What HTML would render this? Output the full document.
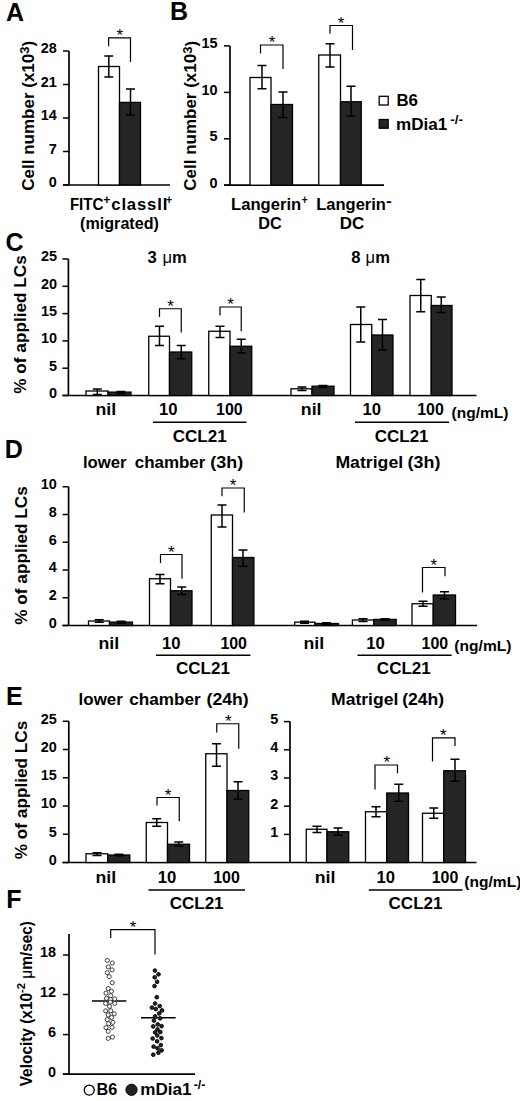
<!DOCTYPE html>
<html><head><meta charset="utf-8"><style>
html,body{margin:0;padding:0;background:#fff;}
svg{display:block;}
text{font-family:"Liberation Sans", sans-serif;fill:#000;}
</style></head><body>
<svg width="520" height="1101" viewBox="0 0 520 1101">
<rect x="0" y="0" width="520" height="1101" fill="#fff"/>
<g stroke="#000">
<text stroke="none" x="6" y="20.8" font-size="25" text-anchor="start" font-weight="bold" >A</text>
<text stroke="none" x="170" y="19.6" font-size="25" text-anchor="start" font-weight="bold" >B</text>
<text stroke="none" x="5.6" y="251.2" font-size="25" text-anchor="start" font-weight="bold" >C</text>
<text stroke="none" x="4.8" y="457.8" font-size="25" text-anchor="start" font-weight="bold" >D</text>
<text stroke="none" x="6.0" y="705.2" font-size="25" text-anchor="start" font-weight="bold" >E</text>
<text stroke="none" x="6.3" y="907.8" font-size="25" text-anchor="start" font-weight="bold" >F</text>
<text stroke="none" x="28.3" y="115.8" font-size="17" text-anchor="middle" font-weight="bold" transform="rotate(-90 28.3 115.8)" dominant-baseline="central">Cell number (x10<tspan font-size="13" dy="-4.3">3</tspan><tspan dy="4.3">)</tspan></text>
<line x1="69" y1="51" x2="69" y2="185" stroke-width="1.7"/>
<line x1="63" y1="51" x2="69" y2="51" stroke-width="1.5"/>
<text stroke="none" x="40.63" y="53.30" font-size="15.2" font-weight="bold" textLength="16.06" lengthAdjust="spacingAndGlyphs">28</text>
<line x1="63" y1="84.5" x2="69" y2="84.5" stroke-width="1.5"/>
<text stroke="none" x="40.63" y="86.80" font-size="15.2" font-weight="bold" textLength="16.06" lengthAdjust="spacingAndGlyphs">21</text>
<line x1="63" y1="118" x2="69" y2="118" stroke-width="1.5"/>
<text stroke="none" x="40.63" y="120.30" font-size="15.2" font-weight="bold" textLength="16.06" lengthAdjust="spacingAndGlyphs">14</text>
<line x1="63" y1="151.5" x2="69" y2="151.5" stroke-width="1.5"/>
<text stroke="none" x="48.66" y="153.80" font-size="15.2" font-weight="bold" textLength="8.03" lengthAdjust="spacingAndGlyphs">7</text>
<line x1="63" y1="185" x2="69" y2="185" stroke-width="1.5"/>
<text stroke="none" x="48.66" y="187.30" font-size="15.2" font-weight="bold" textLength="8.03" lengthAdjust="spacingAndGlyphs">0</text>
<line x1="63" y1="185" x2="170" y2="185" stroke-width="1.7"/>
<rect x="98.5" y="66.5" width="21.0" height="118.5" fill="#fff" stroke="#000" stroke-width="1.3"/>
<rect x="119.5" y="102.4" width="21.0" height="82.6" fill="#252525" stroke="#000" stroke-width="1.3"/>
<path d="M108.8,56V77M104.3,56H113.3M104.3,77H113.3" stroke-width="1.5" fill="none"/>
<path d="M130.5,89V115M126.0,89H135.0M126.0,115H135.0" stroke-width="1.5" fill="none"/>
<path d="M108.6,46.2V37.8H130.5V62" stroke-width="1.2" fill="none"/>
<text stroke="none" x="119.7" y="41.05" font-size="17" text-anchor="middle" font-weight="normal" >*</text>
<text stroke="none" x="69.89" y="210" font-size="16.7" font-weight="bold" textLength="33.63" lengthAdjust="spacingAndGlyphs">FITC</text>
<text stroke="none" x="103.19" y="203.6" font-size="12" font-weight="bold" textLength="7.10" lengthAdjust="spacingAndGlyphs">+</text>
<text stroke="none" x="111.28" y="210" font-size="16.7" font-weight="bold" textLength="56.04" lengthAdjust="spacing">classII</text>
<text stroke="none" x="166.06" y="203.6" font-size="12" font-weight="bold" textLength="6.17" lengthAdjust="spacingAndGlyphs">+</text>
<text stroke="none" x="80.10" y="228.6" font-size="16.7" font-weight="bold" textLength="78.81" lengthAdjust="spacingAndGlyphs">(migrated)</text>
<text stroke="none" x="191" y="115.8" font-size="17" text-anchor="middle" font-weight="bold" transform="rotate(-90 191 115.8)" dominant-baseline="central">Cell number (x10<tspan font-size="13" dy="-4.3">3</tspan><tspan dy="4.3">)</tspan></text>
<line x1="230" y1="45.9" x2="230" y2="185.2" stroke-width="1.7"/>
<line x1="224" y1="45.9" x2="230" y2="45.9" stroke-width="1.5"/>
<text stroke="none" x="201.53" y="48.20" font-size="15.2" font-weight="bold" textLength="16.06" lengthAdjust="spacingAndGlyphs">15</text>
<line x1="224" y1="92.4" x2="230" y2="92.4" stroke-width="1.5"/>
<text stroke="none" x="201.53" y="94.70" font-size="15.2" font-weight="bold" textLength="16.06" lengthAdjust="spacingAndGlyphs">10</text>
<line x1="224" y1="138.8" x2="230" y2="138.8" stroke-width="1.5"/>
<text stroke="none" x="209.56" y="141.10" font-size="15.2" font-weight="bold" textLength="8.03" lengthAdjust="spacingAndGlyphs">5</text>
<line x1="224" y1="185.2" x2="230" y2="185.2" stroke-width="1.5"/>
<text stroke="none" x="209.56" y="187.50" font-size="15.2" font-weight="bold" textLength="8.03" lengthAdjust="spacingAndGlyphs">0</text>
<line x1="224" y1="185.2" x2="384" y2="185.2" stroke-width="1.7"/>
<rect x="250" y="77.5" width="21" height="107.69999999999999" fill="#fff" stroke="#000" stroke-width="1.3"/>
<rect x="271" y="104.5" width="21.5" height="80.69999999999999" fill="#252525" stroke="#000" stroke-width="1.3"/>
<path d="M262,65.5V88.75M257.5,65.5H266.5M257.5,88.75H266.5" stroke-width="1.5" fill="none"/>
<path d="M283,92V117.5M278.5,92H287.5M278.5,117.5H287.5" stroke-width="1.5" fill="none"/>
<path d="M260.5,53.5V45H283V69" stroke-width="1.2" fill="none"/>
<text stroke="none" x="272" y="48.25" font-size="17" text-anchor="middle" font-weight="normal" >*</text>
<rect x="318.75" y="55" width="21.75" height="130.2" fill="#fff" stroke="#000" stroke-width="1.3"/>
<rect x="340.5" y="101.75" width="20.75" height="83.44999999999999" fill="#252525" stroke="#000" stroke-width="1.3"/>
<path d="M330,43.75V67M325.5,43.75H334.5M325.5,67H334.5" stroke-width="1.5" fill="none"/>
<path d="M351,86.25V116M346.5,86.25H355.5M346.5,116H355.5" stroke-width="1.5" fill="none"/>
<path d="M330,33.75V25.5H352.5V50" stroke-width="1.2" fill="none"/>
<text stroke="none" x="341" y="28.75" font-size="17" text-anchor="middle" font-weight="normal" >*</text>
<text stroke="none" x="231.09" y="209.5" font-size="16.7" font-weight="bold" textLength="70.04" lengthAdjust="spacingAndGlyphs">Langerin</text>
<text stroke="none" x="301.67" y="203.5" font-size="12" font-weight="bold" textLength="5.94" lengthAdjust="spacingAndGlyphs">+</text>
<text stroke="none" x="316.20" y="209.5" font-size="16.7" font-weight="bold" textLength="69.73" lengthAdjust="spacingAndGlyphs">Langerin</text>
<text stroke="none" x="385.92" y="205.6" font-size="14" font-weight="bold" textLength="5.77" lengthAdjust="spacingAndGlyphs">-</text>
<text stroke="none" x="258.21" y="228.6" font-size="16.7" font-weight="bold" textLength="23.43" lengthAdjust="spacingAndGlyphs">DC</text>
<text stroke="none" x="339.87" y="228.6" font-size="16.7" font-weight="bold" textLength="24.50" lengthAdjust="spacingAndGlyphs">DC</text>
<rect x="379.2" y="96.3" width="9" height="8.7" fill="#fff" stroke="#000" stroke-width="1.3"/>
<rect x="379.2" y="119.5" width="9" height="8.7" fill="#252525" stroke="#000" stroke-width="1.3"/>
<text stroke="none" x="396.5" y="106.2" font-size="16.8" text-anchor="start" font-weight="bold" >B6</text>
<text stroke="none" x="396" y="130.4" font-size="17.1" text-anchor="start" font-weight="bold" >mDia1<tspan font-size="13.5" dx="3" dy="-6.5">-/-</tspan></text>
<text stroke="none" x="147.6" y="263.4" font-size="16.6" text-anchor="start" font-weight="bold" >3<tspan x="162.4" font-weight="normal">μ</tspan>m</text>
<text stroke="none" x="351.2" y="263.4" font-size="16.6" text-anchor="start" font-weight="bold" >8<tspan x="365.6" font-weight="normal">μ</tspan>m</text>
<text stroke="none" x="20" y="324.5" font-size="17.2" text-anchor="middle" font-weight="bold" transform="rotate(-90 20 324.5)" dominant-baseline="central">% of applied LCs</text>
<line x1="68.4" y1="259" x2="68.4" y2="395.5" stroke-width="1.7"/>
<line x1="62.400000000000006" y1="259" x2="68.4" y2="259" stroke-width="1.5"/>
<text stroke="none" x="41.03" y="261.30" font-size="15.2" font-weight="bold" textLength="16.06" lengthAdjust="spacingAndGlyphs">25</text>
<line x1="62.400000000000006" y1="286.3" x2="68.4" y2="286.3" stroke-width="1.5"/>
<text stroke="none" x="41.03" y="288.60" font-size="15.2" font-weight="bold" textLength="16.06" lengthAdjust="spacingAndGlyphs">20</text>
<line x1="62.400000000000006" y1="313.6" x2="68.4" y2="313.6" stroke-width="1.5"/>
<text stroke="none" x="41.03" y="315.90" font-size="15.2" font-weight="bold" textLength="16.06" lengthAdjust="spacingAndGlyphs">15</text>
<line x1="62.400000000000006" y1="340.9" x2="68.4" y2="340.9" stroke-width="1.5"/>
<text stroke="none" x="41.03" y="343.20" font-size="15.2" font-weight="bold" textLength="16.06" lengthAdjust="spacingAndGlyphs">10</text>
<line x1="62.400000000000006" y1="368.2" x2="68.4" y2="368.2" stroke-width="1.5"/>
<text stroke="none" x="49.06" y="370.50" font-size="15.2" font-weight="bold" textLength="8.03" lengthAdjust="spacingAndGlyphs">5</text>
<line x1="62.400000000000006" y1="395.5" x2="68.4" y2="395.5" stroke-width="1.5"/>
<text stroke="none" x="49.06" y="397.80" font-size="15.2" font-weight="bold" textLength="8.03" lengthAdjust="spacingAndGlyphs">0</text>
<line x1="62.5" y1="395.5" x2="476.5" y2="395.5" stroke-width="1.7"/>
<rect x="86" y="391" width="22" height="4.5" fill="#fff" stroke="#000" stroke-width="1.3"/>
<path d="M97.3,389V394.4M92.8,389H101.8M92.8,394.4H101.8" stroke-width="1.5" fill="none"/>
<rect x="108" y="392.1" width="23" height="3.3999999999999773" fill="#252525" stroke="#000" stroke-width="1.3"/>
<path d="M121,391.4V393.6M116.5,391.4H125.5M116.5,393.6H125.5" stroke-width="1.5" fill="none"/>
<rect x="148.75" y="336.25" width="20.75" height="59.25" fill="#fff" stroke="#000" stroke-width="1.3"/>
<path d="M159.5,326.25V345.5M155.0,326.25H164.0M155.0,345.5H164.0" stroke-width="1.5" fill="none"/>
<rect x="169.5" y="352" width="22.25" height="43.5" fill="#252525" stroke="#000" stroke-width="1.3"/>
<path d="M181.25,345.5V358.75M176.75,345.5H185.75M176.75,358.75H185.75" stroke-width="1.5" fill="none"/>
<rect x="208.75" y="331.25" width="21.25" height="64.25" fill="#fff" stroke="#000" stroke-width="1.3"/>
<path d="M220,326.25V337.5M215.5,326.25H224.5M215.5,337.5H224.5" stroke-width="1.5" fill="none"/>
<rect x="230" y="346.25" width="21.75" height="49.25" fill="#252525" stroke="#000" stroke-width="1.3"/>
<path d="M241.25,339.25V353M236.75,339.25H245.75M236.75,353H245.75" stroke-width="1.5" fill="none"/>
<rect x="291" y="388.8" width="21" height="6.699999999999989" fill="#fff" stroke="#000" stroke-width="1.3"/>
<path d="M302,387.1V390.6M297.5,387.1H306.5M297.5,390.6H306.5" stroke-width="1.5" fill="none"/>
<rect x="312" y="386.2" width="22" height="9.300000000000011" fill="#252525" stroke="#000" stroke-width="1.3"/>
<path d="M323,385.4V387.4M318.5,385.4H327.5M318.5,387.4H327.5" stroke-width="1.5" fill="none"/>
<rect x="350.5" y="324.5" width="21.25" height="71.0" fill="#fff" stroke="#000" stroke-width="1.3"/>
<path d="M360.75,307V342M356.25,307H365.25M356.25,342H365.25" stroke-width="1.5" fill="none"/>
<rect x="371.75" y="335" width="21.25" height="60.5" fill="#252525" stroke="#000" stroke-width="1.3"/>
<path d="M382.5,319.5V350M378.0,319.5H387.0M378.0,350H387.0" stroke-width="1.5" fill="none"/>
<rect x="410" y="295.5" width="21.25" height="100.0" fill="#fff" stroke="#000" stroke-width="1.3"/>
<path d="M420.75,279.5V311.75M416.25,279.5H425.25M416.25,311.75H425.25" stroke-width="1.5" fill="none"/>
<rect x="431.25" y="305.5" width="20.75" height="90.0" fill="#252525" stroke="#000" stroke-width="1.3"/>
<path d="M441.25,297V312.5M436.75,297H445.75M436.75,312.5H445.75" stroke-width="1.5" fill="none"/>
<path d="M159.5,317V308.75H181.25V332.5" stroke-width="1.2" fill="none"/>
<text stroke="none" x="170.5" y="312.0" font-size="17" text-anchor="middle" font-weight="normal" >*</text>
<path d="M220,315.5V307H241.25V331.25" stroke-width="1.2" fill="none"/>
<text stroke="none" x="230.5" y="310.25" font-size="17" text-anchor="middle" font-weight="normal" >*</text>
<text stroke="none" x="95.41" y="415.2" font-size="16" font-weight="bold" textLength="20.67" lengthAdjust="spacingAndGlyphs">nil</text>
<text stroke="none" x="159.05" y="415.2" font-size="16" font-weight="bold" textLength="18.53" lengthAdjust="spacingAndGlyphs">10</text>
<text stroke="none" x="216.10" y="415.2" font-size="16" font-weight="bold" textLength="26.56" lengthAdjust="spacingAndGlyphs">100</text>
<text stroke="none" x="300.85" y="415.2" font-size="16" font-weight="bold" textLength="20.67" lengthAdjust="spacingAndGlyphs">nil</text>
<text stroke="none" x="362.45" y="415.2" font-size="16" font-weight="bold" textLength="18.53" lengthAdjust="spacingAndGlyphs">10</text>
<text stroke="none" x="417.25" y="415.2" font-size="16" font-weight="bold" textLength="26.56" lengthAdjust="spacingAndGlyphs">100</text>
<line x1="153" y1="422.2" x2="246.5" y2="422.2" stroke-width="1.5"/>
<line x1="355" y1="422.2" x2="449" y2="422.2" stroke-width="1.5"/>
<text stroke="none" x="172.77" y="441.8" font-size="16.5" font-weight="bold" textLength="53.92" lengthAdjust="spacingAndGlyphs">CCL21</text>
<text stroke="none" x="374.68" y="441.8" font-size="16.5" font-weight="bold" textLength="53.91" lengthAdjust="spacingAndGlyphs">CCL21</text>
<text stroke="none" x="451.63" y="418.3" font-size="15" font-weight="bold" textLength="56.74" lengthAdjust="spacingAndGlyphs">(ng/mL)</text>
<text stroke="none" x="82.94" y="467.5" font-size="17" font-weight="bold" textLength="43.52" lengthAdjust="spacingAndGlyphs">lower</text>
<text stroke="none" x="134.74" y="467.5" font-size="17" font-weight="bold" textLength="70.62" lengthAdjust="spacingAndGlyphs">chamber</text>
<text stroke="none" x="210.31" y="467.5" font-size="17" font-weight="bold" textLength="32.89" lengthAdjust="spacingAndGlyphs">(3h)</text>
<text stroke="none" x="335.42" y="467.7" font-size="17" font-weight="bold" textLength="67.73" lengthAdjust="spacingAndGlyphs">Matrigel</text>
<text stroke="none" x="407.61" y="467.7" font-size="17" font-weight="bold" textLength="32.78" lengthAdjust="spacingAndGlyphs">(3h)</text>
<text stroke="none" x="20.5" y="555.5" font-size="17.2" text-anchor="middle" font-weight="bold" transform="rotate(-90 20.5 555.5)" dominant-baseline="central">% of applied LCs</text>
<line x1="68.6" y1="486.75" x2="68.6" y2="625.5" stroke-width="1.7"/>
<line x1="62.599999999999994" y1="486.75" x2="68.6" y2="486.75" stroke-width="1.5"/>
<text stroke="none" x="40.73" y="489.05" font-size="15.2" font-weight="bold" textLength="16.06" lengthAdjust="spacingAndGlyphs">10</text>
<line x1="62.599999999999994" y1="514.5" x2="68.6" y2="514.5" stroke-width="1.5"/>
<text stroke="none" x="48.76" y="516.80" font-size="15.2" font-weight="bold" textLength="8.03" lengthAdjust="spacingAndGlyphs">8</text>
<line x1="62.599999999999994" y1="542.25" x2="68.6" y2="542.25" stroke-width="1.5"/>
<text stroke="none" x="48.76" y="544.55" font-size="15.2" font-weight="bold" textLength="8.03" lengthAdjust="spacingAndGlyphs">6</text>
<line x1="62.599999999999994" y1="570" x2="68.6" y2="570" stroke-width="1.5"/>
<text stroke="none" x="48.76" y="572.30" font-size="15.2" font-weight="bold" textLength="8.03" lengthAdjust="spacingAndGlyphs">4</text>
<line x1="62.599999999999994" y1="597.75" x2="68.6" y2="597.75" stroke-width="1.5"/>
<text stroke="none" x="48.76" y="600.05" font-size="15.2" font-weight="bold" textLength="8.03" lengthAdjust="spacingAndGlyphs">2</text>
<line x1="62.599999999999994" y1="625.5" x2="68.6" y2="625.5" stroke-width="1.5"/>
<text stroke="none" x="48.76" y="627.80" font-size="15.2" font-weight="bold" textLength="8.03" lengthAdjust="spacingAndGlyphs">0</text>
<line x1="62.5" y1="625.5" x2="477" y2="625.5" stroke-width="1.7"/>
<rect x="88.5" y="621" width="21.0" height="4.5" fill="#fff" stroke="#000" stroke-width="1.3"/>
<path d="M99.2,619.8V622.2M94.7,619.8H103.7M94.7,622.2H103.7" stroke-width="1.5" fill="none"/>
<rect x="109.5" y="622.1" width="23.0" height="3.3999999999999773" fill="#252525" stroke="#000" stroke-width="1.3"/>
<path d="M121.2,621.3V623.3M116.7,621.3H125.7M116.7,623.3H125.7" stroke-width="1.5" fill="none"/>
<rect x="149.5" y="578.75" width="21.0" height="46.75" fill="#fff" stroke="#000" stroke-width="1.3"/>
<path d="M160,574.5V583.75M155.5,574.5H164.5M155.5,583.75H164.5" stroke-width="1.5" fill="none"/>
<rect x="170.5" y="590.75" width="21.5" height="34.75" fill="#252525" stroke="#000" stroke-width="1.3"/>
<path d="M181.75,587V594.5M177.25,587H186.25M177.25,594.5H186.25" stroke-width="1.5" fill="none"/>
<rect x="211.25" y="515" width="21.25" height="110.5" fill="#fff" stroke="#000" stroke-width="1.3"/>
<path d="M222,505V527M217.5,505H226.5M217.5,527H226.5" stroke-width="1.5" fill="none"/>
<rect x="232.5" y="557.5" width="21.400000000000006" height="68.0" fill="#252525" stroke="#000" stroke-width="1.3"/>
<path d="M243,550V566.25M238.5,550H247.5M238.5,566.25H247.5" stroke-width="1.5" fill="none"/>
<rect x="294.7" y="622.2" width="20.30000000000001" height="3.2999999999999545" fill="#fff" stroke="#000" stroke-width="1.3"/>
<path d="M304.5,621.2V623.2M300.0,621.2H309.0M300.0,623.2H309.0" stroke-width="1.5" fill="none"/>
<rect x="315" y="623.5" width="23.5" height="2.0" fill="#252525" stroke="#000" stroke-width="1.3"/>
<path d="M326.5,622.8V624.2M322.0,622.8H331.0M322.0,624.2H331.0" stroke-width="1.5" fill="none"/>
<rect x="352.4" y="620" width="21.5" height="5.5" fill="#fff" stroke="#000" stroke-width="1.3"/>
<path d="M363,618.8V621.4M358.5,618.8H367.5M358.5,621.4H367.5" stroke-width="1.5" fill="none"/>
<rect x="373.9" y="619.4" width="22.30000000000001" height="6.100000000000023" fill="#252525" stroke="#000" stroke-width="1.3"/>
<path d="M385,618.8V620.2M380.5,618.8H389.5M380.5,620.2H389.5" stroke-width="1.5" fill="none"/>
<rect x="412" y="603.75" width="21.25" height="21.75" fill="#fff" stroke="#000" stroke-width="1.3"/>
<path d="M423,601.25V606.25M418.5,601.25H427.5M418.5,606.25H427.5" stroke-width="1.5" fill="none"/>
<rect x="433.25" y="595" width="22.25" height="30.5" fill="#252525" stroke="#000" stroke-width="1.3"/>
<path d="M444.5,591.75V598.75M440.0,591.75H449.0M440.0,598.75H449.0" stroke-width="1.5" fill="none"/>
<path d="M160.5,563V554.5H182V578.75" stroke-width="1.2" fill="none"/>
<text stroke="none" x="171.25" y="557.75" font-size="17" text-anchor="middle" font-weight="normal" >*</text>
<path d="M222,496.25V488H244.25V512.5" stroke-width="1.2" fill="none"/>
<text stroke="none" x="233" y="491.25" font-size="17" text-anchor="middle" font-weight="normal" >*</text>
<path d="M422.5,592.5V567.5H445V576.25" stroke-width="1.2" fill="none"/>
<text stroke="none" x="433.75" y="570.75" font-size="17" text-anchor="middle" font-weight="normal" >*</text>
<text stroke="none" x="98.45" y="648.8" font-size="16" font-weight="bold" textLength="20.68" lengthAdjust="spacingAndGlyphs">nil</text>
<text stroke="none" x="162.05" y="648.8" font-size="16" font-weight="bold" textLength="18.53" lengthAdjust="spacingAndGlyphs">10</text>
<text stroke="none" x="220.40" y="648.8" font-size="16" font-weight="bold" textLength="26.56" lengthAdjust="spacingAndGlyphs">100</text>
<text stroke="none" x="303.45" y="648.8" font-size="16" font-weight="bold" textLength="20.68" lengthAdjust="spacingAndGlyphs">nil</text>
<text stroke="none" x="366.30" y="648.8" font-size="16" font-weight="bold" textLength="18.53" lengthAdjust="spacingAndGlyphs">10</text>
<text stroke="none" x="421.55" y="648.8" font-size="16" font-weight="bold" textLength="26.56" lengthAdjust="spacingAndGlyphs">100</text>
<line x1="156" y1="655.3" x2="250.4" y2="655.3" stroke-width="1.5"/>
<line x1="357.5" y1="655.3" x2="451.7" y2="655.3" stroke-width="1.5"/>
<text stroke="none" x="176.02" y="674.4" font-size="16.5" font-weight="bold" textLength="53.92" lengthAdjust="spacingAndGlyphs">CCL21</text>
<text stroke="none" x="376.87" y="674.4" font-size="16.5" font-weight="bold" textLength="53.92" lengthAdjust="spacingAndGlyphs">CCL21</text>
<text stroke="none" x="454.32" y="651" font-size="15" font-weight="bold" textLength="57.15" lengthAdjust="spacingAndGlyphs">(ng/mL)</text>
<text stroke="none" x="78.62" y="705.3" font-size="17" font-weight="bold" textLength="44.24" lengthAdjust="spacingAndGlyphs">lower</text>
<text stroke="none" x="129.33" y="705.3" font-size="17" font-weight="bold" textLength="71.43" lengthAdjust="spacingAndGlyphs">chamber</text>
<text stroke="none" x="206.52" y="705.3" font-size="17" font-weight="bold" textLength="42.05" lengthAdjust="spacingAndGlyphs">(24h)</text>
<text stroke="none" x="331.03" y="705.3" font-size="17" font-weight="bold" textLength="67.32" lengthAdjust="spacingAndGlyphs">Matrigel</text>
<text stroke="none" x="402.23" y="705.3" font-size="17" font-weight="bold" textLength="41.95" lengthAdjust="spacingAndGlyphs">(24h)</text>
<text stroke="none" x="20.5" y="790" font-size="17.2" text-anchor="middle" font-weight="bold" transform="rotate(-90 20.5 790)" dominant-baseline="central">% of applied LCs</text>
<line x1="68.8" y1="721.25" x2="68.8" y2="862.5" stroke-width="1.7"/>
<line x1="62.8" y1="721.25" x2="68.8" y2="721.25" stroke-width="1.5"/>
<text stroke="none" x="40.83" y="723.55" font-size="15.2" font-weight="bold" textLength="16.06" lengthAdjust="spacingAndGlyphs">25</text>
<line x1="62.8" y1="749.5" x2="68.8" y2="749.5" stroke-width="1.5"/>
<text stroke="none" x="40.83" y="751.80" font-size="15.2" font-weight="bold" textLength="16.06" lengthAdjust="spacingAndGlyphs">20</text>
<line x1="62.8" y1="777.75" x2="68.8" y2="777.75" stroke-width="1.5"/>
<text stroke="none" x="40.83" y="780.05" font-size="15.2" font-weight="bold" textLength="16.06" lengthAdjust="spacingAndGlyphs">15</text>
<line x1="62.8" y1="806" x2="68.8" y2="806" stroke-width="1.5"/>
<text stroke="none" x="40.83" y="808.30" font-size="15.2" font-weight="bold" textLength="16.06" lengthAdjust="spacingAndGlyphs">10</text>
<line x1="62.8" y1="834.25" x2="68.8" y2="834.25" stroke-width="1.5"/>
<text stroke="none" x="48.86" y="836.55" font-size="15.2" font-weight="bold" textLength="8.03" lengthAdjust="spacingAndGlyphs">5</text>
<line x1="62.8" y1="862.5" x2="68.8" y2="862.5" stroke-width="1.5"/>
<text stroke="none" x="48.86" y="864.80" font-size="15.2" font-weight="bold" textLength="8.03" lengthAdjust="spacingAndGlyphs">0</text>
<line x1="290" y1="721.6" x2="290" y2="862.5" stroke-width="1.7"/>
<line x1="284" y1="721.6" x2="290" y2="721.6" stroke-width="1.5"/>
<text stroke="none" x="270.16" y="723.90" font-size="15.2" font-weight="bold" textLength="8.03" lengthAdjust="spacingAndGlyphs">5</text>
<line x1="284" y1="749.8" x2="290" y2="749.8" stroke-width="1.5"/>
<text stroke="none" x="270.16" y="752.10" font-size="15.2" font-weight="bold" textLength="8.03" lengthAdjust="spacingAndGlyphs">4</text>
<line x1="284" y1="778" x2="290" y2="778" stroke-width="1.5"/>
<text stroke="none" x="270.16" y="780.30" font-size="15.2" font-weight="bold" textLength="8.03" lengthAdjust="spacingAndGlyphs">3</text>
<line x1="284" y1="806.2" x2="290" y2="806.2" stroke-width="1.5"/>
<text stroke="none" x="270.16" y="808.50" font-size="15.2" font-weight="bold" textLength="8.03" lengthAdjust="spacingAndGlyphs">2</text>
<line x1="284" y1="834.4" x2="290" y2="834.4" stroke-width="1.5"/>
<text stroke="none" x="270.16" y="836.70" font-size="15.2" font-weight="bold" textLength="8.03" lengthAdjust="spacingAndGlyphs">1</text>
<line x1="62.5" y1="862.5" x2="476.5" y2="862.5" stroke-width="1.7"/>
<rect x="86" y="853.8" width="21.700000000000003" height="8.700000000000045" fill="#fff" stroke="#000" stroke-width="1.3"/>
<path d="M97,852.7V855.6M92.5,852.7H101.5M92.5,855.6H101.5" stroke-width="1.5" fill="none"/>
<rect x="107.7" y="855" width="22.10000000000001" height="7.5" fill="#252525" stroke="#000" stroke-width="1.3"/>
<path d="M118.9,854.2V855.8M114.4,854.2H123.4M114.4,855.8H123.4" stroke-width="1.5" fill="none"/>
<rect x="146.25" y="822.5" width="21.25" height="40.0" fill="#fff" stroke="#000" stroke-width="1.3"/>
<path d="M156.75,818.75V826.25M152.25,818.75H161.25M152.25,826.25H161.25" stroke-width="1.5" fill="none"/>
<rect x="167.5" y="844.25" width="22.0" height="18.25" fill="#252525" stroke="#000" stroke-width="1.3"/>
<path d="M178.75,842V846.25M174.25,842H183.25M174.25,846.25H183.25" stroke-width="1.5" fill="none"/>
<rect x="205.75" y="753.75" width="21.25" height="108.75" fill="#fff" stroke="#000" stroke-width="1.3"/>
<path d="M216.5,743.75V766.25M212.0,743.75H221.0M212.0,766.25H221.0" stroke-width="1.5" fill="none"/>
<rect x="227" y="790.5" width="21.75" height="72.0" fill="#252525" stroke="#000" stroke-width="1.3"/>
<path d="M238,781.75V799.25M233.5,781.75H242.5M233.5,799.25H242.5" stroke-width="1.5" fill="none"/>
<rect x="306.25" y="829.25" width="20.75" height="33.25" fill="#fff" stroke="#000" stroke-width="1.3"/>
<path d="M317,826.25V832.5M312.5,826.25H321.5M312.5,832.5H321.5" stroke-width="1.5" fill="none"/>
<rect x="327" y="831.75" width="21.75" height="30.75" fill="#252525" stroke="#000" stroke-width="1.3"/>
<path d="M338,828V835M333.5,828H342.5M333.5,835H342.5" stroke-width="1.5" fill="none"/>
<rect x="365.5" y="811.75" width="21.25" height="50.75" fill="#fff" stroke="#000" stroke-width="1.3"/>
<path d="M376,806.75V816.75M371.5,806.75H380.5M371.5,816.75H380.5" stroke-width="1.5" fill="none"/>
<rect x="386.75" y="793" width="21.75" height="69.5" fill="#252525" stroke="#000" stroke-width="1.3"/>
<path d="M398.75,784.25V801.25M394.25,784.25H403.25M394.25,801.25H403.25" stroke-width="1.5" fill="none"/>
<rect x="422.5" y="813.25" width="21.25" height="49.25" fill="#fff" stroke="#000" stroke-width="1.3"/>
<path d="M433.75,808V818.25M429.25,808H438.25M429.25,818.25H438.25" stroke-width="1.5" fill="none"/>
<rect x="443.75" y="770.75" width="21.75" height="91.75" fill="#252525" stroke="#000" stroke-width="1.3"/>
<path d="M455,759.25V781.25M450.5,759.25H459.5M450.5,781.25H459.5" stroke-width="1.5" fill="none"/>
<path d="M157,805.5V797.5H179.25V821.25" stroke-width="1.2" fill="none"/>
<text stroke="none" x="168" y="800.75" font-size="17" text-anchor="middle" font-weight="normal" >*</text>
<path d="M216.75,732.5V723.75H238.75V748.75" stroke-width="1.2" fill="none"/>
<text stroke="none" x="228.25" y="727.0" font-size="17" text-anchor="middle" font-weight="normal" >*</text>
<path d="M375,789.5V765H397.5V773.25" stroke-width="1.2" fill="none"/>
<text stroke="none" x="386.75" y="768.25" font-size="17" text-anchor="middle" font-weight="normal" >*</text>
<path d="M432.5,761.5V737.8H455V746" stroke-width="1.2" fill="none"/>
<text stroke="none" x="443.4" y="741.05" font-size="17" text-anchor="middle" font-weight="normal" >*</text>
<text stroke="none" x="95.41" y="882.8" font-size="16" font-weight="bold" textLength="20.67" lengthAdjust="spacingAndGlyphs">nil</text>
<text stroke="none" x="157.80" y="882.8" font-size="16" font-weight="bold" textLength="18.53" lengthAdjust="spacingAndGlyphs">10</text>
<text stroke="none" x="213.20" y="882.8" font-size="16" font-weight="bold" textLength="26.56" lengthAdjust="spacingAndGlyphs">100</text>
<text stroke="none" x="314.71" y="882.8" font-size="16" font-weight="bold" textLength="20.66" lengthAdjust="spacingAndGlyphs">nil</text>
<text stroke="none" x="376.45" y="882.8" font-size="16" font-weight="bold" textLength="18.53" lengthAdjust="spacingAndGlyphs">10</text>
<text stroke="none" x="431.70" y="882.8" font-size="16" font-weight="bold" textLength="26.56" lengthAdjust="spacingAndGlyphs">100</text>
<line x1="148.5" y1="890" x2="245" y2="890" stroke-width="1.5"/>
<line x1="368.8" y1="890" x2="462.6" y2="890" stroke-width="1.5"/>
<text stroke="none" x="169.68" y="909" font-size="16.5" font-weight="bold" textLength="53.91" lengthAdjust="spacingAndGlyphs">CCL21</text>
<text stroke="none" x="388.57" y="909" font-size="16.5" font-weight="bold" textLength="53.92" lengthAdjust="spacingAndGlyphs">CCL21</text>
<text stroke="none" x="464.32" y="887" font-size="15" font-weight="bold" textLength="57.05" lengthAdjust="spacingAndGlyphs">(ng/mL)</text>
<text stroke="none" x="0" y="0" font-size="15.8" font-weight="bold" textLength="165.3" lengthAdjust="spacingAndGlyphs" transform="translate(32.4 1086.3) rotate(-90)">Velocity (x10<tspan font-size="11.5" dy="-7">-2</tspan><tspan dy="7"> </tspan><tspan font-weight="normal">μ</tspan>m/sec)</text>
<line x1="69" y1="934" x2="69" y2="1074.2" stroke-width="1.7"/>
<line x1="63" y1="955" x2="69" y2="955" stroke-width="1.5"/>
<text stroke="none" x="39.93" y="957.30" font-size="15.2" font-weight="bold" textLength="16.06" lengthAdjust="spacingAndGlyphs">18</text>
<line x1="63" y1="994.5" x2="69" y2="994.5" stroke-width="1.5"/>
<text stroke="none" x="39.93" y="996.80" font-size="15.2" font-weight="bold" textLength="16.06" lengthAdjust="spacingAndGlyphs">12</text>
<line x1="63" y1="1034.6" x2="69" y2="1034.6" stroke-width="1.5"/>
<text stroke="none" x="47.96" y="1036.90" font-size="15.2" font-weight="bold" textLength="8.03" lengthAdjust="spacingAndGlyphs">6</text>
<line x1="63" y1="1074.2" x2="69" y2="1074.2" stroke-width="1.5"/>
<text stroke="none" x="47.96" y="1076.50" font-size="15.2" font-weight="bold" textLength="8.03" lengthAdjust="spacingAndGlyphs">0</text>
<line x1="62.8" y1="1074.2" x2="195" y2="1074.2" stroke-width="1.7"/>
<path d="M110.7,938V929.7H155V954.6" stroke-width="1.2" fill="none"/>
<text stroke="none" x="133" y="932.95" font-size="17" text-anchor="middle" font-weight="normal" >*</text>
<line x1="92" y1="1001" x2="126.3" y2="1001" stroke-width="1.5"/>
<line x1="141" y1="1017.7" x2="175.7" y2="1017.7" stroke-width="1.5"/>
<circle cx="107.3" cy="960.4" r="2.05" fill="#fff" stroke="#222" stroke-width="0.85"/>
<circle cx="112.3" cy="963" r="2.05" fill="#fff" stroke="#222" stroke-width="0.85"/>
<circle cx="108.3" cy="966.9" r="2.05" fill="#fff" stroke="#222" stroke-width="0.85"/>
<circle cx="112.1" cy="969.9" r="2.05" fill="#fff" stroke="#222" stroke-width="0.85"/>
<circle cx="107.3" cy="972.7" r="2.05" fill="#fff" stroke="#222" stroke-width="0.85"/>
<circle cx="109.2" cy="976.6" r="2.05" fill="#fff" stroke="#222" stroke-width="0.85"/>
<circle cx="112.3" cy="982.7" r="2.05" fill="#fff" stroke="#222" stroke-width="0.85"/>
<circle cx="108.2" cy="988.5" r="2.05" fill="#fff" stroke="#222" stroke-width="0.85"/>
<circle cx="111.5" cy="991.3" r="2.05" fill="#fff" stroke="#222" stroke-width="0.85"/>
<circle cx="106" cy="993.1" r="2.05" fill="#fff" stroke="#222" stroke-width="0.85"/>
<circle cx="110.6" cy="995.7" r="2.05" fill="#fff" stroke="#222" stroke-width="0.85"/>
<circle cx="106.4" cy="998.4" r="2.05" fill="#fff" stroke="#222" stroke-width="0.85"/>
<circle cx="114.7" cy="998.9" r="2.05" fill="#fff" stroke="#222" stroke-width="0.85"/>
<circle cx="110.6" cy="999.5" r="2.05" fill="#fff" stroke="#222" stroke-width="0.85"/>
<circle cx="105.6" cy="1003.4" r="2.05" fill="#fff" stroke="#222" stroke-width="0.85"/>
<circle cx="110.3" cy="1002.1" r="2.05" fill="#fff" stroke="#222" stroke-width="0.85"/>
<circle cx="114.7" cy="1003.4" r="2.05" fill="#fff" stroke="#222" stroke-width="0.85"/>
<circle cx="109.5" cy="1006.4" r="2.05" fill="#fff" stroke="#222" stroke-width="0.85"/>
<circle cx="105.7" cy="1010.8" r="2.05" fill="#fff" stroke="#222" stroke-width="0.85"/>
<circle cx="110.8" cy="1010.8" r="2.05" fill="#fff" stroke="#222" stroke-width="0.85"/>
<circle cx="114.2" cy="1013.8" r="2.05" fill="#fff" stroke="#222" stroke-width="0.85"/>
<circle cx="108.2" cy="1014.9" r="2.05" fill="#fff" stroke="#222" stroke-width="0.85"/>
<circle cx="111.6" cy="1017.5" r="2.05" fill="#fff" stroke="#222" stroke-width="0.85"/>
<circle cx="107.3" cy="1019.6" r="2.05" fill="#fff" stroke="#222" stroke-width="0.85"/>
<circle cx="112.9" cy="1022.4" r="2.05" fill="#fff" stroke="#222" stroke-width="0.85"/>
<circle cx="108.6" cy="1023.7" r="2.05" fill="#fff" stroke="#222" stroke-width="0.85"/>
<circle cx="106" cy="1027.6" r="2.05" fill="#fff" stroke="#222" stroke-width="0.85"/>
<circle cx="112.1" cy="1027.4" r="2.05" fill="#fff" stroke="#222" stroke-width="0.85"/>
<circle cx="108.2" cy="1031.3" r="2.05" fill="#fff" stroke="#222" stroke-width="0.85"/>
<circle cx="112.5" cy="1037.1" r="2.05" fill="#fff" stroke="#222" stroke-width="0.85"/>
<circle cx="108.2" cy="1038.4" r="2.05" fill="#fff" stroke="#222" stroke-width="0.85"/>
<circle cx="154.9" cy="970.6" r="1.85" fill="#262626" stroke="#000" stroke-width="0.9"/>
<circle cx="158.5" cy="974.3" r="1.85" fill="#262626" stroke="#000" stroke-width="0.9"/>
<circle cx="154.7" cy="977.3" r="1.85" fill="#262626" stroke="#000" stroke-width="0.9"/>
<circle cx="157.1" cy="981.8" r="1.85" fill="#262626" stroke="#000" stroke-width="0.9"/>
<circle cx="154.5" cy="986.1" r="1.85" fill="#262626" stroke="#000" stroke-width="0.9"/>
<circle cx="156.8" cy="997.2" r="1.85" fill="#262626" stroke="#000" stroke-width="0.9"/>
<circle cx="155.1" cy="1003.5" r="1.85" fill="#262626" stroke="#000" stroke-width="0.9"/>
<circle cx="159.7" cy="1006.1" r="1.85" fill="#262626" stroke="#000" stroke-width="0.9"/>
<circle cx="151.9" cy="1007.6" r="1.85" fill="#262626" stroke="#000" stroke-width="0.9"/>
<circle cx="155.8" cy="1009.1" r="1.85" fill="#262626" stroke="#000" stroke-width="0.9"/>
<circle cx="162" cy="1010.4" r="1.85" fill="#262626" stroke="#000" stroke-width="0.9"/>
<circle cx="159.2" cy="1013.4" r="1.85" fill="#262626" stroke="#000" stroke-width="0.9"/>
<circle cx="155.1" cy="1016.4" r="1.85" fill="#262626" stroke="#000" stroke-width="0.9"/>
<circle cx="160.1" cy="1018.3" r="1.85" fill="#262626" stroke="#000" stroke-width="0.9"/>
<circle cx="153.9" cy="1020.6" r="1.85" fill="#262626" stroke="#000" stroke-width="0.9"/>
<circle cx="157.7" cy="1024.4" r="1.85" fill="#262626" stroke="#000" stroke-width="0.9"/>
<circle cx="153.2" cy="1026.4" r="1.85" fill="#262626" stroke="#000" stroke-width="0.9"/>
<circle cx="161.6" cy="1026.1" r="1.85" fill="#262626" stroke="#000" stroke-width="0.9"/>
<circle cx="157.5" cy="1029.4" r="1.85" fill="#262626" stroke="#000" stroke-width="0.9"/>
<circle cx="155.1" cy="1032.4" r="1.85" fill="#262626" stroke="#000" stroke-width="0.9"/>
<circle cx="160.3" cy="1032" r="1.85" fill="#262626" stroke="#000" stroke-width="0.9"/>
<circle cx="157.3" cy="1035.5" r="1.85" fill="#262626" stroke="#000" stroke-width="0.9"/>
<circle cx="152.7" cy="1038.5" r="1.85" fill="#262626" stroke="#000" stroke-width="0.9"/>
<circle cx="161.4" cy="1038.1" r="1.85" fill="#262626" stroke="#000" stroke-width="0.9"/>
<circle cx="157.1" cy="1041.3" r="1.85" fill="#262626" stroke="#000" stroke-width="0.9"/>
<circle cx="160.8" cy="1045.1" r="1.85" fill="#262626" stroke="#000" stroke-width="0.9"/>
<circle cx="153.6" cy="1046.6" r="1.85" fill="#262626" stroke="#000" stroke-width="0.9"/>
<circle cx="157.5" cy="1048.3" r="1.85" fill="#262626" stroke="#000" stroke-width="0.9"/>
<circle cx="161.6" cy="1050.3" r="1.85" fill="#262626" stroke="#000" stroke-width="0.9"/>
<circle cx="158.4" cy="1052.7" r="1.85" fill="#262626" stroke="#000" stroke-width="0.9"/>
<circle cx="153.3" cy="1054.7" r="1.85" fill="#262626" stroke="#000" stroke-width="0.9"/>
<circle cx="89.25" cy="1090.1" r="5.0" fill="#fff" stroke="#000" stroke-width="1.3"/>
<text stroke="none" x="96.6" y="1095.1" font-size="16.3" text-anchor="start" font-weight="bold" >B6</text>
<circle cx="131.5" cy="1089.8" r="5.6" fill="#222"/>
<text stroke="none" x="140.2" y="1095" font-size="17.1" text-anchor="start" font-weight="bold" >mDia1<tspan font-size="12.5" dx="2.2" dy="-6">-/-</tspan></text>
</g>
</svg>
</body></html>
